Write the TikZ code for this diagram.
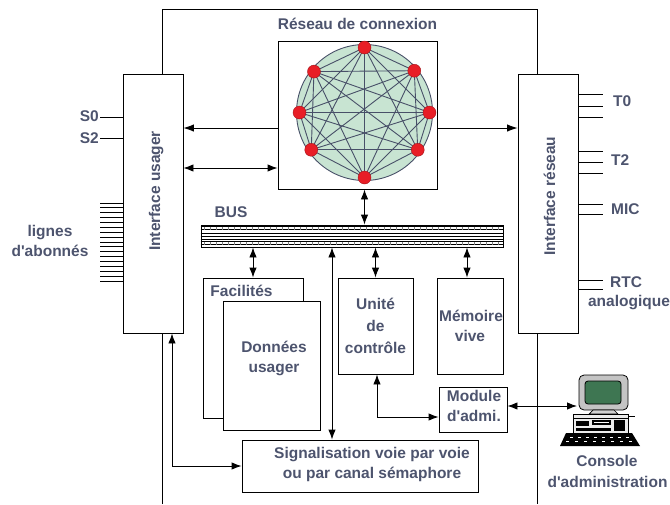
\documentclass[tikz,border=0pt]{standalone}
\usepackage{fontspec}
\setmainfont{Liberation Sans}
\usetikzlibrary{arrows.meta, positioning, calc}

\definecolor{txt}{RGB}{77,84,110}
\definecolor{meshc}{RGB}{72,80,104}
\definecolor{ringfill}{RGB}{200,228,210}
\definecolor{dotred}{RGB}{232,30,38}
\definecolor{screenc}{RGB}{62,118,82}
\definecolor{monc}{RGB}{196,196,196}

\newcommand{\lblfont}{\fontsize{15.5}{20}\selectfont\bfseries}
\newcommand{\apos}{\textquotesingle}

\begin{document}
\begin{tikzpicture}[
  x=1pt, y=-1pt,
  box/.style = {
    draw,
    line width=0.9pt,
    fill=white,
    inner sep=0pt,
    align=center,
    text=txt,
    font=\lblfont
  },
  lbl/.style = {text=txt, font=\lblfont, inner sep=0pt, align=center},
  arrow/.style = {line width=0.9pt, -{Latex[length=10.5pt, width=7.5pt]}},
  dblarrow/.style = {line width=0.9pt, {Latex[length=10pt, width=7.5pt]}-{Latex[length=10pt, width=7.5pt]}},
  wire/.style = {line width=0.8pt},
  mesh/.style = {draw=meshc, line width=0.9pt},
  dot/.style = {circle, fill=dotred, draw=dotred!70!black, line width=0.4pt,
    minimum size=13pt, inner sep=0pt}
]

\useasboundingbox (0,0) rectangle (670,504);

% ======================================================
% FRAME AND INTERFACES
% ======================================================

\draw[line width=0.9pt] (162,504) |- (537,9.5) -- (537,504);

\node[box, minimum width=60pt, minimum height=259pt] (userif) at (153,203.5) {};
\node[lbl, rotate=90, anchor=base] (userifTxt) at (160,191) {Interface usager};

\node[box, minimum width=60pt, minimum height=259pt] (netif) at (548,203.5) {};
\node[lbl, rotate=90, anchor=base] (netifTxt) at (555,196) {Interface réseau};

% ---- subscriber side ----
\draw[wire] (100,117) -- (123,117);
\draw[wire] (100,138) -- (123,138);
\node[lbl, anchor=base east] (s0) at (99,121.5) {S0};
\node[lbl, anchor=base east] (s2) at (99,143) {S2};

\foreach \k in {0,...,16}
  \draw[wire] (100,{203+4.875*\k}) -- (123,{203+4.875*\k});
\node[lbl] (lines) at (50,241) {lignes\\d\apos abonnés};

% ---- trunk side ----
\foreach \y in {94,106,117,151,162,173,204,214,280,289}
  \draw[wire] (578,\y) -- (603,\y);
\node[lbl, anchor=base west] (t0) at (613,106.5) {T0};
\node[lbl, anchor=base west] (t2) at (611,165) {T2};
\node[lbl, anchor=base west] (mic) at (611,214) {MIC};
\node[lbl, anchor=base west] (rtc) at (610,287.5) {RTC};
\node[lbl, anchor=base] (analog) at (629,306.5) {analogique};

% ======================================================
% SWITCHING NETWORK
% ======================================================

\node[box, minimum width=159pt, minimum height=148pt] (switchnet) at (357.5,115) {};
\node[lbl, above=10.5pt of switchnet] (switchTxt) {Réseau de connexion};

\node[circle, draw=meshc, fill=ringfill, line width=0.9pt, minimum size=136pt,
  inner sep=0pt] (ring) at (364.5,112.5) {};

\foreach \a [count=\i] in {90,141,180,215,270,325,0,40}
  \coordinate (p\i) at ($(ring.center)+(\a:65pt)$);

\foreach \i in {1,...,7} {
  \pgfmathtruncatemacro{\nxt}{\i+1}
  \foreach \j in {\nxt,...,8}
    \draw[mesh] (p\i) -- (p\j);
}

\foreach \i in {1,...,8}
  \node[dot] (d\i) at (p\i) {};

% ---- Arrows ----
\coordinate (west1) at ([yshift=-13pt]switchnet.west);
\coordinate (west2) at ([yshift=-53pt]switchnet.west);
\coordinate (east1) at ([yshift=-13pt]switchnet.east);

\draw[arrow] (west1) -- (west1 -| userif.east);
\draw[dblarrow] (west2 -| userif.east) -- (west2);
\draw[arrow] (east1) -- (east1 -| netif.west);

% ======================================================
% BUS
% ======================================================

\node[draw, line width=0.9pt, fill=white, minimum width=302pt, minimum height=22pt,
  inner sep=0pt] (bus) at (352,236) {};
\node[lbl, anchor=base] (busTxt) at (231,217) {BUS};

\foreach \dy in {2,5,9,12,14.5,17,20}
  \draw[line width=0.5pt] ([yshift=-\dy pt]bus.north west) -- ([yshift=-\dy pt]bus.north east);
\foreach \dx in {4,10,...,298} {
  \draw[line width=0.4pt, gray] ([shift={(\dx pt,-2pt)}]bus.north west) -- ++(0,3);
  \draw[line width=0.4pt, gray] ([shift={(\dx pt,-17pt)}]bus.north west) -- ++(0,3);
}

\draw[dblarrow] (ring.center |- switchnet.south) -- (ring.center |- bus.north);

% ======================================================
% PROCESSING BLOCKS
% ======================================================

\node[box, minimum width=100pt, minimum height=140pt] (facil) at (253,348) {};
\node[lbl, anchor=base] (facilTxt) at (241.5,296.7) {Facilités};

\node[box, minimum width=97pt, minimum height=129pt] (data) at (271.5,365.5) {};
\node[lbl] (dataTxt) at (274,358.5) {Données\\usager};

\node[box, minimum width=75pt, minimum height=96pt] (ctrl) at (375.5,326)
  {Unité\\[2pt]de\\[2pt]contrôle};

\node[box, minimum width=66pt, minimum height=96pt] (ram) at (470,326)
  {\hspace*{2pt}Mémoire\\vive};

\node[box, minimum width=68pt, minimum height=45pt] (admin) at (473,409.5) {};
\node[lbl] (adminTxt) at (474,406) {Module\\d\apos admi.};

\node[box, minimum width=236pt, minimum height=52pt] (signal) at (360,466) {};
\node[lbl] (signalTxt) at (372,464) {Signalisation voie par voie\\ou par canal sémaphore};

% ---- Arrows ----
\coordinate (tap) at (332,300);

\draw[dblarrow] (bus.south -| facil.north) -- (facil.north);
\draw[dblarrow] (bus.south -| ctrl.north) -- (ctrl.north);
\draw[dblarrow] ([xshift=-3pt]bus.south -| ram.north) -- ([xshift=-3pt]ram.north);
\draw[dblarrow] (bus.south -| tap) -- (signal.north -| tap);
\draw[dblarrow] ([xshift=1.5pt]ctrl.south) |- ([yshift=-7.5pt]admin.west);
\draw[dblarrow] ([xshift=19pt]userif.south) |- (signal.west);

% ======================================================
% ADMINISTRATION CONSOLE
% ======================================================

\coordinate (console) at (577,406);
\draw[dblarrow] ([yshift=3.5pt]admin.east) -- (console);

% monitor
\draw[fill=monc, line width=0.8pt, rounded corners=5pt] (579,375) rectangle (628,410);
\draw[fill=screenc, line width=0.8pt, rounded corners=3pt] (585,381) rectangle (621,404);
\draw[fill=monc!80, line width=0.7pt] (593,410) -- (614,410) -- (618,414) -- (589,414) -- cycle;
% system unit
\draw[fill=gray!15, line width=0.8pt] (573,414) rectangle (628,433);
\draw[line width=0.6pt] (573,418) -- (628,418);
\fill[black] (576,421) rectangle (589,426);
\fill[black] (592,420) rectangle (611,425);
\draw[white, line width=0.6pt] (594,422.5) -- (609,422.5);
\fill[black] (614,420) rectangle (625,431);
\fill[black] (576,428) rectangle (611,431);
\draw[line width=0.8pt] (628,416) -- (635,416);
% keyboard
\fill[black] (566,433) -- (632,433) -- (640,446) -- (560,446) -- cycle;
\foreach \x in {570,578,...,630}
  \draw[white, line width=0.5pt] (\x,437.5) -- ++(3,0);
\foreach \x in {566,575,...,634}
  \draw[white, line width=0.5pt] (\x,441.5) -- ++(3,0);

\node[lbl, anchor=base] (consoleTxt) at (607,466) {Console};
\node[lbl, anchor=base] (consoleTxt2) at (607.5,487.7) {d\apos administration};

\end{tikzpicture}
\end{document}
